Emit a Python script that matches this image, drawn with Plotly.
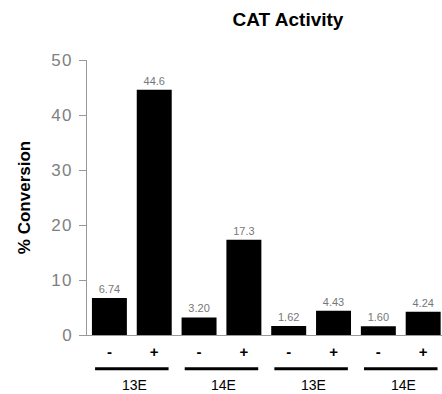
import plotly.graph_objects as go

treatment = ["-", "+", "-", "+", "-", "+", "-", "+"]
conversion = [6.74, 44.6, 3.20, 17.3, 1.62, 4.43, 1.60, 4.24]
value_labels = ["6.74", "44.6", "3.20", "17.3", "1.62", "4.43", "1.60", "4.24"]
groups = ["13E", "14E", "13E", "14E"]
y_ticks = [0, 10, 20, 30, 40, 50]
y_tick_labels = ["0", "1\u200a0", "2\u200a0", "3\u200a0", "4\u200a0", "5\u200a0"]

x = list(range(len(conversion)))

fig = go.Figure()
fig.add_trace(go.Bar(
    x=x, y=conversion, marker=dict(color="black", line=dict(width=0)),
    width=0.78,
    text=value_labels, textposition="outside", cliponaxis=False,
    textfont=dict(family="Liberation Sans", size=11, color="#777777"),
))

font = "Liberation Sans"
for i, g in enumerate(groups):
    x0 = 2 * i - 0.32
    x1 = 2 * i + 1.32
    fig.add_shape(type="line", xref="x", yref="paper", x0=x0, x1=x1, y0=-0.123, y1=-0.123,
                  line=dict(color="black", width=3))
    fig.add_annotation(x=2 * i + 0.55, xref="x", y=-0.181, yref="paper", text=g,
                       showarrow=False, yanchor="middle",
                       font=dict(family=font, size=14, color="black"))

fig.update_layout(
    width=442, height=394,
    margin=dict(l=87, r=0, t=60, b=59, autoexpand=False),
    paper_bgcolor="white", plot_bgcolor="white",
    showlegend=False,
    title=dict(text="<b>CAT Activity</b>", x=288 / 442, xanchor="center", y=1 - 19 / 394, yanchor="middle",
               font=dict(family=font, size=19, color="black")),
    xaxis=dict(range=[-0.5, 7.42], tickvals=x, ticktext=[f"<b>{t}</b>" for t in treatment],
               ticks="", showgrid=False, zeroline=False, showline=True, linecolor="#999999", linewidth=1,
               tickfont=dict(family=font, size=15, color="black"), ticklabelstandoff=3, automargin=False),
    yaxis=dict(range=[0, 50], tickvals=y_ticks, ticktext=y_tick_labels, ticks="outside", ticklen=7,
               tickcolor="#999999",
               showgrid=False, zeroline=False, showline=True, linecolor="#999999", linewidth=1,
               tickfont=dict(family=font, size=17, color="#808080"), automargin=False,
               ticklabelstandoff=4,
               title=dict(text="<b>% Conversion</b>", standoff=16,
                          font=dict(family=font, size=17, color="black"))),
)

fig.write_html("out.html", config={"displayModeBar": False},
               post_script="document.body.style.margin='0';")
